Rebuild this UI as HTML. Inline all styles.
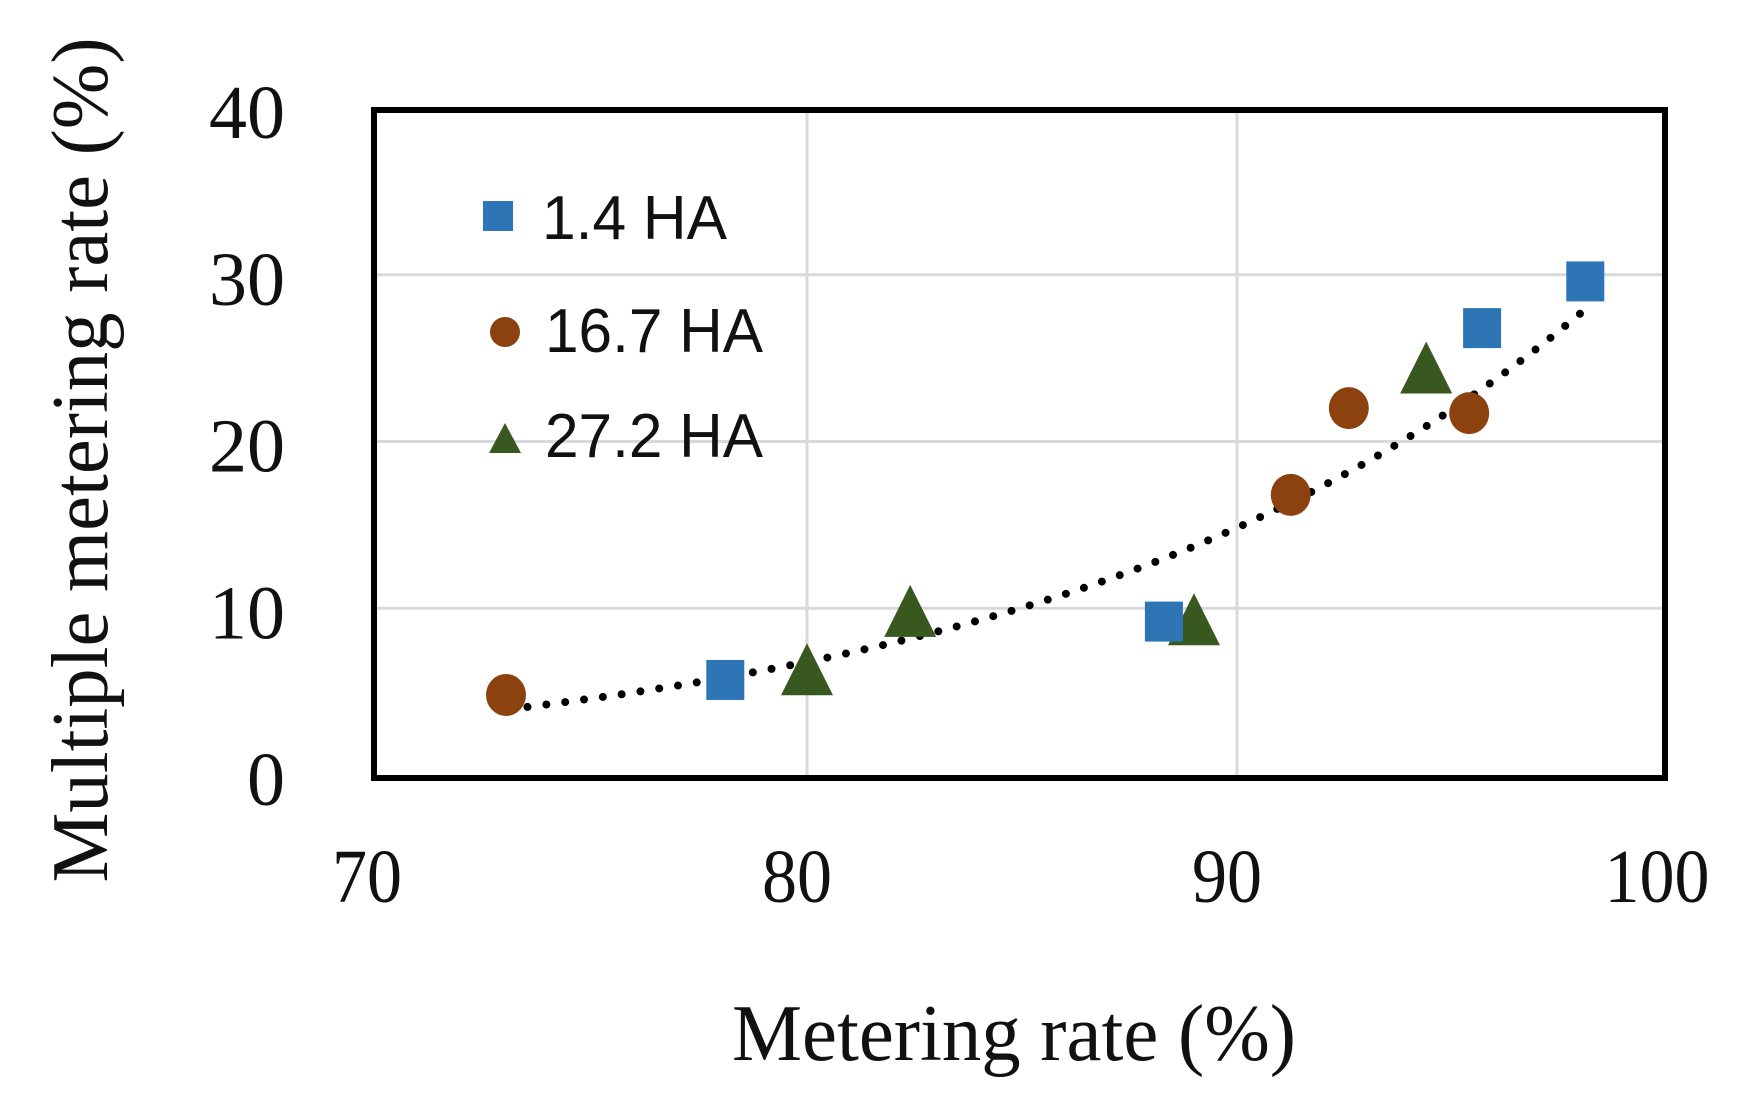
<!DOCTYPE html>
<html><head><meta charset="utf-8"><style>
html,body{margin:0;padding:0;background:#fff;}
svg{display:block;}
</style></head><body>
<svg id="chart" width="1741" height="1110" viewBox="0 0 1741 1110" xmlns="http://www.w3.org/2000/svg">
<rect width="1741" height="1110" fill="#fff"/>
<g id="grid"></g>
<g id="trend"></g>
<g id="marks"></g>
<rect x="374" y="110" width="1291" height="668" fill="none" stroke="#000" stroke-width="6"/>
<g id="ticks" font-family="Liberation Serif, serif" fill="#111"></g>
<text x="1014" y="1060" font-family="Liberation Serif, serif" font-size="80" text-anchor="middle" textLength="564" lengthAdjust="spacingAndGlyphs" fill="#111">Metering rate (%)</text>
<text transform="translate(107,460) rotate(-90)" font-family="Liberation Serif, serif" font-size="80" text-anchor="middle" textLength="845" lengthAdjust="spacingAndGlyphs" fill="#111">Multiple metering rate (%)</text>
<g>
  <rect x="483" y="201" width="30" height="30" fill="#2e75b6"/>
  <text x="542" y="239" font-family="Liberation Sans, sans-serif" font-size="62" textLength="185" lengthAdjust="spacingAndGlyphs" fill="#111">1.4 HA</text>
  <circle cx="505" cy="332" r="15" fill="#8b420f"/>
  <text x="545" y="352" font-family="Liberation Sans, sans-serif" font-size="62" textLength="218" lengthAdjust="spacingAndGlyphs" fill="#111">16.7 HA</text>
  <polygon points="505,423 521,453 489,453" fill="#38581f"/>
  <text x="545" y="457" font-family="Liberation Sans, sans-serif" font-size="62" textLength="218" lengthAdjust="spacingAndGlyphs" fill="#111">27.2 HA</text>
</g>
</svg>
<script>
const xTicks = [70, 80, 90, 100];
const yTicks = [0, 10, 20, 30, 40];
const sqX = [78.1, 88.3, 95.7, 98.1];
const sqY = [5.7, 9.2, 26.8, 29.6];
const ciX = [73.0, 91.25, 92.6, 95.4];
const ciY = [4.8, 16.8, 22.0, 21.7];
const trX = [80.0, 82.4, 89.0, 94.4];
const trY = [6.1, 9.6, 9.1, 24.2];

const NS = 'http://www.w3.org/2000/svg';
const X0 = 377, X1 = 1667, Y0 = 775, Y1 = 108;
function sx(v){ return X0 + (v - 70) / 30 * (X1 - X0); }
function sy(v){ return Y0 - v / 40 * (Y0 - Y1); }
function mk(tag, attrs, parent){
  const el = document.createElementNS(NS, tag);
  for (const k in attrs) el.setAttribute(k, attrs[k]);
  parent.appendChild(el);
  return el;
}
const grid = document.getElementById('grid');
const ticks = document.getElementById('ticks');
const marks = document.getElementById('marks');
const trend = document.getElementById('trend');

xTicks.forEach(function(t){
  if (t > 70 && t < 100) {
    const l = mk('line', {x1: sx(t), x2: sx(t), y1: 110, y2: 778, stroke: '#d9d9d9', 'stroke-width': 3}, grid);
    
    
  }
  const tx = mk('text', {x: sx(t) - 10, y: 902, 'font-size': 76, 'text-anchor': 'middle', textLength: t === 100 ? 105 : 70, lengthAdjust: 'spacingAndGlyphs'}, ticks);
  tx.textContent = t;
  
  
});
yTicks.forEach(function(t){
  if (t > 0 && t < 40) {
    const l = mk('line', {x1: 374, x2: 1665, y1: sy(t), y2: sy(t), stroke: '#d9d9d9', 'stroke-width': 3}, grid);
    
    
  }
  const tx = mk('text', {x: 285, y: sy(t) + 30, 'font-size': 76, 'text-anchor': 'end'}, ticks);
  tx.textContent = t;
  
  
});

// exponential trendline fitted (log-linear least squares) to all points
const allX = sqX.concat(ciX, trX), allY = sqY.concat(ciY, trY);
let n = allX.length, sX = 0, sL = 0, sXX = 0, sXL = 0;
for (let i = 0; i < n; i++){ const L = Math.log(allY[i]); sX += allX[i]; sL += L; sXX += allX[i]*allX[i]; sXL += allX[i]*L; }
const b = (n*sXL - sX*sL) / (n*sXX - sX*sX);
const a = (sL - b*sX) / n;
const xMin = Math.min.apply(null, allX) + 0.5, xMax = Math.max.apply(null, allX);
let d = '';
for (let i = 0; i <= 100; i++){
  const xv = xMin + (xMax - xMin) * i / 100;
  const yv = Math.exp(a + b * xv);
  d += (i ? 'L' : 'M') + sx(xv).toFixed(1) + ',' + sy(yv).toFixed(1);
}
const tp = mk('path', {d: d, fill: 'none', stroke: '#000', 'stroke-width': 8, 'stroke-linecap': 'round', 'stroke-dasharray': '0 19'}, trend);



trX.forEach(function(v, i){
  const cx = sx(v), cy = sy(trY[i]);
  const p = mk('polygon', {points: cx + ',' + (cy - 30) + ' ' + (cx + 26) + ',' + (cy + 22) + ' ' + (cx - 26) + ',' + (cy + 22), fill: '#38581f'}, marks);
  
  
});
ciX.forEach(function(v, i){
  const c = mk('ellipse', {cx: sx(v), cy: sy(ciY[i]), rx: 20, ry: 21, fill: '#8b420f'}, marks);
  
  
});
sqX.forEach(function(v, i){
  const r = mk('rect', {x: sx(v) - 19, y: sy(sqY[i]) - 20, width: 38, height: 40, fill: '#2e75b6'}, marks);
  
  
});
</script>
</body></html>
